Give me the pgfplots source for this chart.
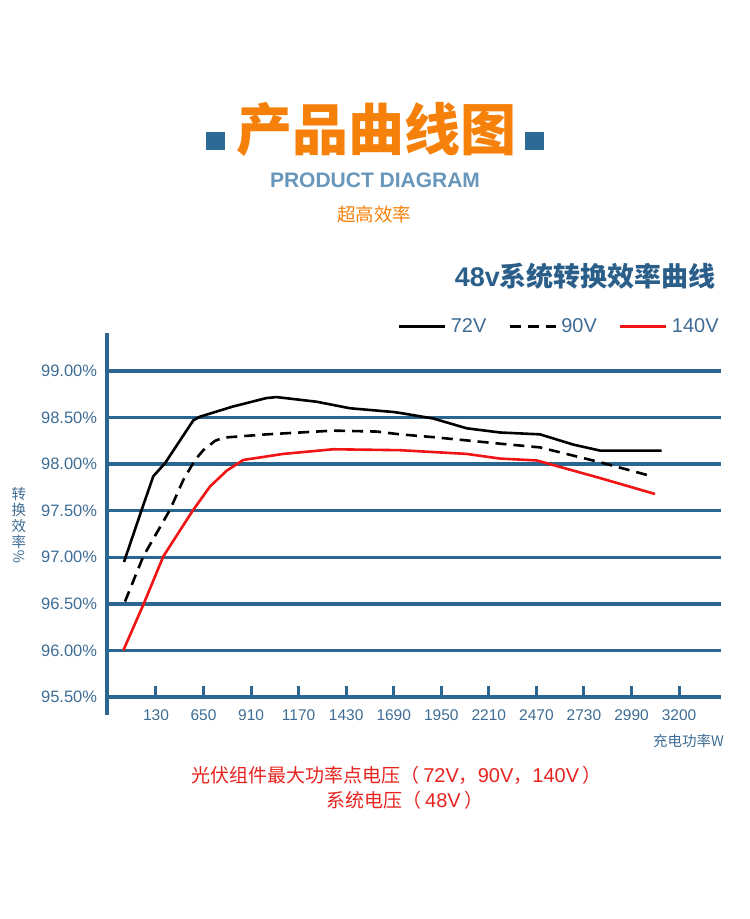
\documentclass[border=0pt]{standalone}
\usepackage{fontspec}
\setmainfont{Liberation Sans}
\newfontfamily\cjk{Noto Sans CJK SC}
\usepackage{pgfplots}
\pgfplotsset{compat=1.18}
\definecolor{axblue}{RGB}{42,102,144}
\definecolor{lblblue}{RGB}{62,108,148}
\definecolor{ttlblue}{RGB}{43,95,138}
\definecolor{engblue}{RGB}{104,151,187}
\definecolor{sqblue}{RGB}{45,106,148}
\definecolor{orng}{RGB}{245,128,10}
\definecolor{redline}{RGB}{240,20,20}
\definecolor{redtext}{RGB}{230,35,30}
\begin{document}
\begin{tikzpicture}
\begin{scope}[x=1pt,y=1pt]
\path[use as bounding box] (0,0) rectangle (750,-919);
\fill[sqblue] (206,-132) rectangle (225,-150);
\fill[sqblue] (524.5,-132) rectangle (543.5,-150);
\node[text=orng, font=\cjk\bfseries\fontsize{56}{60}\selectfont, inner sep=0pt] at (376,-129) {产品曲线图};
\node[text=engblue, font=\bfseries\fontsize{21}{24}\selectfont, inner sep=0pt] at (375,-180.5) {PRODUCT DIAGRAM};
\node[text=orng, font=\cjk\fontsize{18.5}{20}\selectfont, inner sep=0pt] at (374,-214) {超高效率};
\node[text=ttlblue, font=\bfseries\fontsize{27}{30}\selectfont, inner sep=0pt, anchor=east] at (716,-276) {48v{\cjk 系统转换效率曲线}};
\node[text=lblblue, font=\cjk\fontsize{14.5}{16}\selectfont, align=center, inner sep=0pt] at (19,-525) {转\\换\\效\\率\\\rotatebox{90}{\%}};
\node[text=lblblue, font=\cjk\fontsize{14.5}{16}\selectfont, inner sep=0pt, anchor=east] at (724,-741) {充电功率W};
\node[text=redtext, font=\fontsize{20}{22}\selectfont, inner sep=0pt] at (396.7,-775) {{\cjk\fontsize{19}{21}\selectfont 光伏组件最大功率点电压（}\,72V{\cjk\fontsize{19}{21}\selectfont ，}90V{\cjk\fontsize{19}{21}\selectfont ，}140V\,{\cjk\fontsize{19}{21}\selectfont ）}};
\node[text=redtext, font=\fontsize{20}{22}\selectfont, inner sep=0pt] at (405,-800) {{\cjk\fontsize{19}{21}\selectfont 系统电压（}\,48V\,{\cjk\fontsize{19}{21}\selectfont ）}};
\end{scope}
\begin{axis}[
  at={(107.3pt,-715pt)}, anchor=south west,
  scale only axis, width=613.7pt, height=382pt,
  xmin=-0.024, xmax=12.882, ymin=95.307, ymax=99.408,
  axis line style={draw=none},
  clip=false,
  xtick={1,2,3,4,5,6,7,8,9,10,11,12},
  xticklabels={130,650,910,1170,1430,1690,1950,2210,2470,2730,2990,3200},
  ytick={95.5,96,96.5,97,97.5,98,98.5,99},
  yticklabels={95.50\%,96.00\%,96.50\%,97.00\%,97.50\%,98.00\%,98.50\%,99.00\%},
  major tick length=0pt,
  ymajorgrids, grid style={axblue, line width=3.5pt},
  /pgf/number format/assume math mode=true,
  yticklabel style={anchor=east, inner sep=0pt, xshift=-10pt, text=lblblue, font=\fontsize{16.5}{18}\selectfont},
  xticklabel style={anchor=center, inner sep=0pt, yshift=-0.5pt, text=lblblue, font=\fontsize{15.5}{17}\selectfont},
  legend columns=3,
  legend style={draw=none, fill=none, at={(1.003,1.0165)}, anchor=east, inner sep=0pt,
    font=\fontsize{20}{22}\selectfont, text=lblblue, nodes={inner xsep=4pt, inner ysep=1.5pt},
    /tikz/every even column/.append style={column sep=18pt}},
  legend image code/.code={\draw[#1, line width=3pt] (0pt,0pt) -- (46pt,0pt);},
]
\draw[axblue, line width=4pt] (rel axis cs:0,0) -- (rel axis cs:0,1);
\pgfplotsinvokeforeach{1,...,12}{\draw[axblue, line width=3pt] (axis cs:#1,95.5) -- (axis cs:#1,95.62);}
\addplot[black, line width=2.6pt, line join=round] table {
x y
0.327 96.95
0.699 97.51
0.943 97.87
1.189 98.01
1.784 98.47
1.925 98.51
2.626 98.62
3.328 98.71
3.538 98.72
4.380 98.67
5.080 98.60
5.991 98.56
6.131 98.55
6.832 98.49
7.534 98.385
8.234 98.34
9.076 98.32
9.776 98.21
10.344 98.145
11.635 98.145
};
\addlegendentry{72V}
\addplot[black, line width=2.6pt, dash pattern=on 11pt off 7pt] table {
x y
0.348 96.525
0.733 97.01
1.294 97.51
1.574 97.83
1.820 98.045
1.995 98.15
2.241 98.25
2.415 98.285
3.328 98.32
4.729 98.36
5.641 98.35
6.131 98.32
6.832 98.29
8.234 98.22
9.076 98.18
10.344 98.02
11.353 97.88
};
\addlegendentry{90V}
\addplot[redline, line width=2.6pt, line join=round] table {
x y
0.312 96.00
0.733 96.49
1.154 97.01
1.330 97.15
1.784 97.51
2.136 97.76
2.487 97.93
2.836 98.045
3.677 98.11
4.729 98.16
6.131 98.15
7.534 98.11
8.234 98.06
9.006 98.04
10.344 97.85
11.494 97.68
};
\addlegendentry{140V}
\end{axis}
\end{tikzpicture}
\end{document}
